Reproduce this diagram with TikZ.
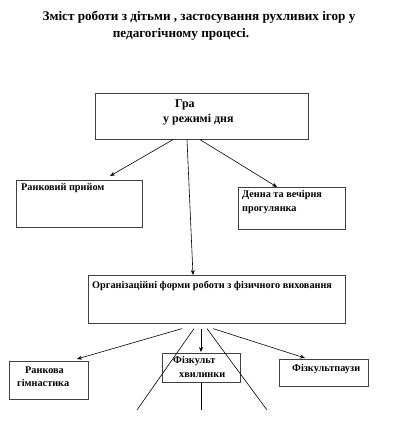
\documentclass[tikz,border=0pt]{standalone}
\usepackage{fontspec}
\setmainfont{Liberation Serif}
\usetikzlibrary{arrows.meta,calc}
\begin{document}
\begin{tikzpicture}[x=1bp,y=-1bp,
 box/.style={draw=black!75, line width=0.6pt, inner sep=0pt, anchor=north west},
 txt/.style={anchor=west, inner sep=0pt, font=\bfseries\fontsize{10.3}{12}\selectfont},
 big/.style={anchor=west, inner sep=0pt, font=\bfseries\fontsize{12}{14}\selectfont},
 ttl/.style={inner sep=0pt, font=\bfseries\fontsize{13.2}{15}\selectfont},
 arr/.style={-{Stealth[length=5bp,width=4bp]}, line width=0.6pt},
 ln/.style={line width=0.6pt}]
\useasboundingbox[fill=white] (0,0) rectangle (403,423);
% title
\node[ttl] (t1) at (199,17) {Зміст роботи з дітьми , застосування рухливих ігор у};
\node[ttl] (t2) at (181,34) {педагогічному процесі.};
% boxes
\node[box, minimum width=213bp, minimum height=46bp] (top) at (95,93) {};
\node[box, minimum width=126bp, minimum height=47bp] (rp) at (16,180) {};
\node[box, minimum width=107bp, minimum height=42bp] (dv) at (238,187) {};
\node[box, minimum width=257bp, minimum height=48bp] (org) at (88,275) {};
\node[box, minimum width=79bp, minimum height=38bp] (rg) at (9,361) {};
\node[box, minimum width=78bp, minimum height=29bp] (fh) at (162,353) {};
\node[box, minimum width=89bp, minimum height=27bp] (fp) at (279,359) {};
% texts
\node[big] (topa) at (175,105) {Гра};
\node[big] (topb) at (163,120) {у режимі дня};
\node[txt] (rpa) at (21,188) {Ранковий прийом};
\node[txt] (dva) at (242,195) {Денна та вечірня};
\node[txt] (dvb) at (242,210) {прогулянка};
\node[txt] (orga) at (92,286) {Організаційні форми роботи з фізичного виховання};
\node[txt] (rga) at (25,370) {Ранкова};
\node[txt] (rgb) at (17,383) {гімнастика};
\node[txt] (fha) at (173,361) {Фізкульт};
\node[txt] (fhb) at (179,375) {хвилинки};
\node[txt] (fpa) at (292,369) {Фізкультпаузи};
% connectors
\draw[arr] ($(top.south west)+(78,0)$) -- ($(rp.north west)+(94,-4)$);
\draw[arr] ($(top.south west)+(92,0)$) -- ($(org.north west)+(105,0)$);
\draw[arr] ($(top.south west)+(105,0)$) -- ($(dv.north west)+(39,0)$);
\draw[arr] ($(org.south west)+(94,5)$) -- ($(rg.north west)+(68,-2)$);
\draw[arr] ($(org.south west)+(113,5)$) -- ($(fh.north west)+(39,-1)$);
\draw[arr] ($(org.south west)+(125,5)$) -- ($(fp.north west)+(26,-1)$);
\coordinate (e1) at (137,410);
\coordinate (e2) at (267,410);
\coordinate (e3) at (201,410);
\draw[ln] ($(org.south west)+(106,5)$) -- (e1);
\draw[ln] ($(org.south west)+(119,5)$) -- (e2);
\draw[ln] ($(fh.south west)+(39,0)$) -- (e3);
\end{tikzpicture}
\end{document}
